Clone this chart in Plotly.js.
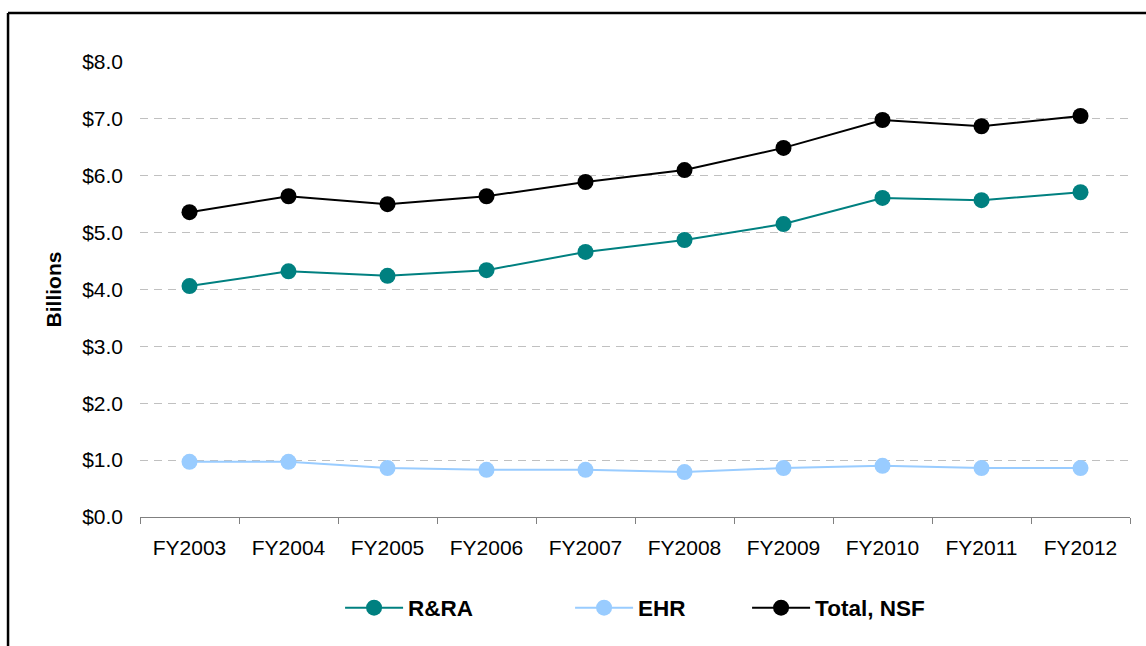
<!DOCTYPE html>
<html>
<head>
<meta charset="utf-8">
<script src="https://cdn.plot.ly/plotly-3.0.1.min.js"></script>
<style>
html,body{margin:0;padding:0;background:#fff;}
#chart{width:1146px;height:646px;}
</style>
</head>
<body>
<div id="chart"></div>
<script>
// Data (billions of dollars)
const years = ["FY2003","FY2004","FY2005","FY2006","FY2007","FY2008","FY2009","FY2010","FY2011","FY2012"];
const rra   = [4.06, 4.32, 4.24, 4.34, 4.66, 4.87, 5.15, 5.61, 5.57, 5.71];
const ehr   = [0.97, 0.97, 0.86, 0.83, 0.83, 0.79, 0.86, 0.90, 0.86, 0.86];
const total = [5.36, 5.64, 5.50, 5.64, 5.89, 6.10, 6.49, 6.98, 6.87, 7.05];
const seriesNames = ["R&RA", "EHR", "Total, NSF"];

const FONT = "Liberation Sans, Arial, sans-serif";

const traces = [
  {x: years, y: rra, name: seriesNames[0], type: "scatter", mode: "lines+markers",
   line: {color: "#008080", width: 2}, marker: {color: "#008080", size: 16}, legend: "legend"},
  {x: years, y: ehr, name: seriesNames[1], type: "scatter", mode: "lines+markers",
   line: {color: "#99CCFF", width: 2}, marker: {color: "#99CCFF", size: 16}, legend: "legend2"},
  {x: years, y: total, name: seriesNames[2], type: "scatter", mode: "lines+markers",
   line: {color: "#000000", width: 2}, marker: {color: "#000000", size: 16}, legend: "legend3"}
];

const legendBase = {
  orientation: "h", xanchor: "left", yanchor: "middle", y: -0.2,
  font: {family: FONT, size: 22.5, color: "#000", weight: "bold"},
  bgcolor: "rgba(0,0,0,0)", borderwidth: 0, itemwidth: 58, traceorder: "normal"
};

const layout = {
  width: 1146, height: 646,
  margin: {l: 140, r: 16, t: 62, b: 129},
  paper_bgcolor: "#ffffff", plot_bgcolor: "#ffffff",
  showlegend: true,
  font: {family: FONT, size: 21, color: "#000"},
  xaxis: {
    type: "category", range: [-0.5, 9.5],
    showline: true, linecolor: "#808080", linewidth: 1,
    ticks: "outside", ticklen: 6, tickcolor: "#808080", tickson: "boundaries",
    showgrid: false, zeroline: false, ticklabelstandoff: 12,
    tickfont: {family: FONT, size: 21, color: "#000"}
  },
  yaxis: {
    range: [0, 8], dtick: 1, tickprefix: "$", tickformat: ".1f",
    showline: false, zeroline: false, ticks: "",
    showgrid: true, gridcolor: "#c0c0c0", gridwidth: 1, griddash: "8px,6px",
    ticklabelstandoff: 16,
    tickfont: {family: FONT, size: 21, color: "#000"},
    title: {text: "Billions", standoff: 14, font: {family: FONT, size: 21, color: "#000", weight: "bold"}}
  },
  legend:  Object.assign({}, legendBase, {x: (348 - 140) / 990 - 0.008}),
  legend2: Object.assign({}, legendBase, {x: (578 - 140) / 990 - 0.008}),
  legend3: Object.assign({}, legendBase, {x: (755 - 140) / 990 - 0.008}),
  shapes: [
    {type: "line", xref: "paper", yref: "paper", x0: -0.1333, x1: 1.1, y0: 1.1077, y1: 1.1077,
     line: {color: "#000", width: 2.5}},
    {type: "line", xref: "paper", yref: "paper", x0: -0.1333, x1: -0.1333, y0: 1.1077, y1: -0.35,
     line: {color: "#000", width: 2.5}}
  ]
};

Plotly.newPlot("chart", traces, layout, {displayModeBar: false, staticPlot: true});
</script>
</body>
</html>
